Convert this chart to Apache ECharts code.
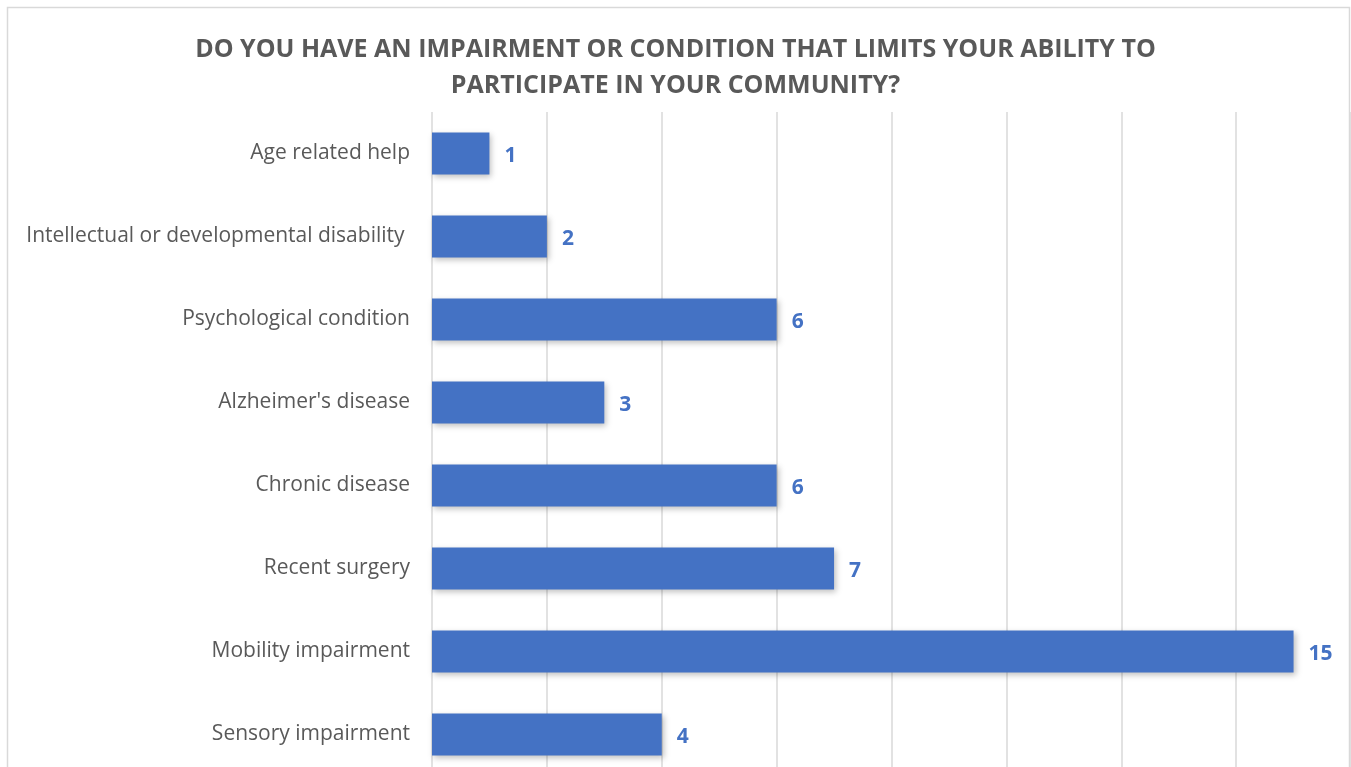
<!DOCTYPE html>
<html>
<head>
<meta charset="utf-8">
<script src="https://cdn.jsdelivr.net/npm/echarts@6/dist/echarts.min.js"></script>
<style>
  html, body { margin: 0; padding: 0; background: #fff; }
  #chart { width: 1351px; height: 767px; }
</style>
</head>
<body>
<div id="chart"></div>
<script>
// categories top to bottom as in the picture
const categories = [
  'Age related help',
  'Intellectual or developmental disability ',
  'Psychological condition',
  "Alzheimer's disease",
  'Chronic disease',
  'Recent surgery',
  'Mobility impairment',
  'Sensory impairment',
]
const counts = [1, 2, 6, 3, 6, 7, 15, 4]
const titleText = 'DO YOU HAVE AN IMPAIRMENT OR CONDITION THAT LIMITS YOUR ABILITY TO\nPARTICIPATE IN YOUR COMMUNITY?'

const font = '"Open Sans", "Noto Sans", sans-serif'

const chart = echarts.init(document.getElementById('chart'))
chart.setOption({
  animation: false,
  textStyle: { fontFamily: font },
  title: {
    text: titleText,
    left: 'center',
    top: 27,
    textStyle: {
      fontFamily: font,
      fontSize: 25,
      fontWeight: 'bold',
      color: '#595959',
      lineHeight: 36,
    },
  },
  graphic: [
    {
      type: 'rect',
      shape: { x: 7.5, y: 7.5, width: 1342, height: 800 },
      style: { fill: 'none', stroke: '#d9d9d9', lineWidth: 1.5 },
      silent: true,
      z: -1,
    },
  ],
  grid: { left: 432, right: 0, top: 112, bottom: -9, outerBoundsMode: 'none' },
  xAxis: {
    type: 'value',
    min: 0,
    max: 16,
    interval: 2,
    axisLabel: { show: false },
    axisLine: { show: false },
    axisTick: { show: false },
    splitLine: { show: true, lineStyle: { color: '#d9d9d9', width: 1.5 } },
  },
  yAxis: {
    type: 'category',
    inverse: true,
    data: categories,
    axisLine: { show: false },
    axisTick: { show: false },
    axisLabel: {
      margin: 22,
      fontSize: 21,
      color: '#595959',
      fontFamily: font,
    },
  },
  series: [
    {
      type: 'bar',
      data: counts,
      barWidth: 42,
      itemStyle: {
        color: '#4472c4',
        shadowBlur: 6,
        shadowColor: 'rgba(0,0,0,0.25)',
        shadowOffsetX: 2,
        shadowOffsetY: 2,
      },
      label: {
        show: true,
        position: 'right',
        distance: 15,
        offset: [0, 3],
        fontSize: 21,
        fontWeight: 'bold',
        color: '#4472c4',
        fontFamily: font,
      },
    },
  ],
})
</script>
</body>
</html>
